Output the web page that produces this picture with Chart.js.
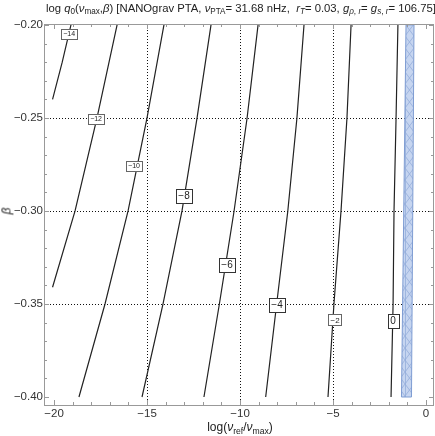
<!DOCTYPE html>
<html>
<head>
<meta charset="utf-8">
<script src="https://cdn.jsdelivr.net/npm/chart.js@4.4.1/dist/chart.umd.min.js"></script>
<style>
  html, body { margin: 0; padding: 0; background: #fff; }
  #wrap { position: relative; width: 435px; height: 436px; font-family: "Liberation Sans", Arial, sans-serif; color: #222; }
  #chart { position: absolute; left: 0; top: 0; }
  .txt { position: absolute; white-space: nowrap; line-height: 1; }
  .txt sub { font-size: 72%; vertical-align: -0.3em; line-height: 0; }
  #title { left: 46px; top: 3px; font-size: 11.3px; }
  #xtitle { left: 240px; top: 421px; font-size: 12px; transform: translateX(-50%); }
  #ytitle { left: 3px; top: 205px; font-size: 12px; transform: rotate(-90deg); font-style: italic; }
</style>
</head>
<body>
<div id="wrap">
  <canvas id="chart" width="435" height="436"></canvas>
  <div id="title" class="txt">log <i>q</i><sub>0</sub>(<i>ν</i><sub>max</sub>,<i>β</i>) [NANOgrav PTA, <i>ν</i><sub>PTA</sub>= 31.68 nHz,&nbsp; <i>r</i><sub><i>T</i></sub>= 0.03, <i>g</i><sub><i>ρ</i>, <i>r</i></sub>= <i>g</i><sub><i>s</i>, <i>r</i></sub>= 106.75]</div>
  <div id="xtitle" class="txt">log(<i>ν</i><sub>ref</sub>/<i>ν</i><sub>max</sub>)</div>
  <div id="ytitle" class="txt">β</div>
</div>
<script>
// --- Datos ---
const xTicks = [-20, -15, -10, -5, 0];
const yTicks = [-0.40, -0.35, -0.30, -0.25, -0.20];
const xGrid = [-15, -10, -5];
const yGrid = [-0.35, -0.30, -0.25];

const levels = [-14, -12, -10, -8, -6, -4, -2, 0];
const contourM14 = [[-19.09, -0.20], [-19.56, -0.22], [-20.08, -0.240]];
const contourM12 = [[-16.61, -0.20], [-17.69, -0.25], [-18.87, -0.30], [-20.08, -0.341]];
const contourM10 = [[-14.09, -0.20], [-15.00, -0.25], [-16.02, -0.30], [-17.26, -0.35], [-18.66, -0.40]];
const contourM8  = [[-11.56, -0.20], [-12.31, -0.25], [-13.12, -0.30], [-14.14, -0.35], [-15.27, -0.40]];
const contourM6  = [[-9.03, -0.20], [-9.62, -0.25], [-10.32, -0.30], [-11.11, -0.35], [-11.94, -0.40]];
const contourM4  = [[-6.56, -0.20], [-6.94, -0.25], [-7.43, -0.30], [-8.03, -0.35], [-8.62, -0.40]];
const contourM2  = [[-4.03, -0.20], [-4.25, -0.25], [-4.57, -0.30], [-4.95, -0.35], [-5.27, -0.40]];
const contour0   = [[-1.51, -0.20], [-1.61, -0.25], [-1.72, -0.30], [-1.77, -0.35], [-1.88, -0.40]];
const contours = [contourM14, contourM12, contourM10, contourM8, contourM6, contourM4, contourM2, contour0];

// posiciones de las etiquetas de nivel (en unidades de datos)
const labelX = [-19.19, -17.74, -15.70, -13.01, -10.70, -8.01, -4.89, -1.77];
const labelY = [-0.2048, -0.2505, -0.2758, -0.2919, -0.3290, -0.3505, -0.3586, -0.3591];

// banda sombreada (región permitida)
const band = [[-1.075, -0.20], [-0.645, -0.20], [-0.78, -0.40], [-1.32, -0.40], [-1.075, -0.20]];

// --- Estilo ---
const labelFont = [7, 7, 7, 10, 10, 10, 8, 10];
const frameColor = "#999";
const FONT = '"Liberation Sans", Arial, sans-serif';
const minus = v => String(v).replace("-", "\u2212");

const toPts = arr => arr.map(([x, y]) => ({ x, y }));

function hatchPattern() {
  const c = document.createElement("canvas");
  c.width = 9; c.height = 12;
  const g = c.getContext("2d");
  g.fillStyle = "#c6d5f0";
  g.fillRect(0, 0, 9, 12);
  g.strokeStyle = "#94addb";
  g.lineWidth = 0.8;
  g.beginPath();
  g.moveTo(0, 0); g.lineTo(9, 12);
  g.moveTo(9, 0); g.lineTo(0, 12);
  g.moveTo(0.5, 0); g.lineTo(0.5, 12);
  g.stroke();
  return g.createPattern(c, "repeat");
}

// --- Plugin: marco, ticks, rejilla y etiquetas ---
const framePlugin = {
  id: "frame",
  beforeDatasetsDraw(chart) {
    const { ctx, chartArea: a, scales: { x, y } } = chart;
    ctx.save();
    ctx.strokeStyle = "#111";
    ctx.lineWidth = 1;
    ctx.setLineDash([1, 2]);
    ctx.beginPath();
    xGrid.forEach(v => { const p = Math.round(x.getPixelForValue(v)) + 0.5; ctx.moveTo(p, a.top); ctx.lineTo(p, a.bottom); });
    yGrid.forEach(v => { const p = Math.round(y.getPixelForValue(v)) + 0.5; ctx.moveTo(a.left, p); ctx.lineTo(a.right, p); });
    ctx.stroke();
    ctx.restore();
  },
  afterDatasetsDraw(chart) {
    const { ctx, chartArea: a, scales: { x, y } } = chart;
    ctx.save();
    // marco
    ctx.strokeStyle = frameColor;
    ctx.lineWidth = 1;
    ctx.strokeRect(Math.round(a.left) + 0.5, Math.round(a.top) + 0.5, Math.round(a.right - a.left) - 1, Math.round(a.bottom - a.top));
    // ticks hacia dentro
    ctx.beginPath();
    for (let v = -20; v <= 0; v += 1) {
      const p = Math.round(x.getPixelForValue(v)) + 0.5;
      const len = v % 5 === 0 ? 5 : 3;
      ctx.moveTo(p, a.bottom); ctx.lineTo(p, a.bottom - len);
      ctx.moveTo(p, a.top); ctx.lineTo(p, a.top + len);
    }
    for (let i = 0; i <= 20; i++) {
      const v = -0.40 + i * 0.01;
      const p = Math.round(y.getPixelForValue(v)) + 0.5;
      const len = i % 5 === 0 ? 5 : 3;
      ctx.moveTo(a.left, p); ctx.lineTo(a.left + len, p);
      ctx.moveTo(a.right, p); ctx.lineTo(a.right - len, p);
    }
    ctx.stroke();
    // etiquetas de los ejes
    ctx.fillStyle = "#333";
    ctx.font = `11.5px ${FONT}`;
    ctx.textAlign = "center";
    ctx.textBaseline = "top";
    xTicks.forEach(v => ctx.fillText(minus(v), x.getPixelForValue(v), a.bottom + 3));
    ctx.textAlign = "right";
    ctx.textBaseline = "middle";
    yTicks.forEach(v => ctx.fillText(minus(v.toFixed(2)), a.left - 1, y.getPixelForValue(v)));
    // etiquetas de nivel
    ctx.textAlign = "center";
    levels.forEach((lv, i) => {
      const px = x.getPixelForValue(labelX[i]);
      const py = y.getPixelForValue(labelY[i]);
      const fs = labelFont[i];
      ctx.font = `${fs}px ${FONT}`;
      const t = minus(lv);
      const w = ctx.measureText(t).width + (fs > 8 ? 5 : 4);
      const h = fs > 8 ? 14 : fs + 3;
      const bx = Math.round(px - w / 2) + 0.5, by = Math.round(py - h / 2) + 0.5;
      ctx.fillStyle = "#fff";
      ctx.fillRect(bx, by, Math.round(w), h);
      ctx.strokeStyle = fs > 8 ? "#333" : "#666";
      ctx.strokeRect(bx, by, Math.round(w), h);
      ctx.fillStyle = "#222";
      ctx.fillText(t, px, py + 0.5);
    });
    ctx.restore();
  }
};

// --- Init ---
document.addEventListener("DOMContentLoaded", () => {
  const datasets = contours.map((c, i) => ({
    label: "log q0 = " + levels[i],
    data: toPts(c),
    showLine: true,
    tension: 0,
    borderColor: "#222",
    borderWidth: 1.2,
    pointRadius: 0,
    fill: false
  }));
  datasets.unshift({
    label: "band",
    data: toPts(band),
    showLine: true,
    tension: 0,
    borderColor: "#7f9dd3",
    borderWidth: 1,
    backgroundColor: hatchPattern(),
    pointRadius: 0,
    fill: "shape"
  });

  new Chart(document.getElementById("chart"), {
    type: "scatter",
    data: { datasets },
    options: {
      responsive: false,
      animation: false,
      layout: { padding: { top: 24, right: 1, left: 44, bottom: 31 } },
      plugins: { legend: { display: false }, tooltip: { enabled: false }, title: { display: false } },
      scales: {
        x: { type: "linear", display: false, min: -20.54, max: 0.43 },
        y: { type: "linear", display: false, min: -0.4043, max: -0.1995 }
      }
    },
    plugins: [framePlugin]
  });
});
</script>
</body>
</html>
